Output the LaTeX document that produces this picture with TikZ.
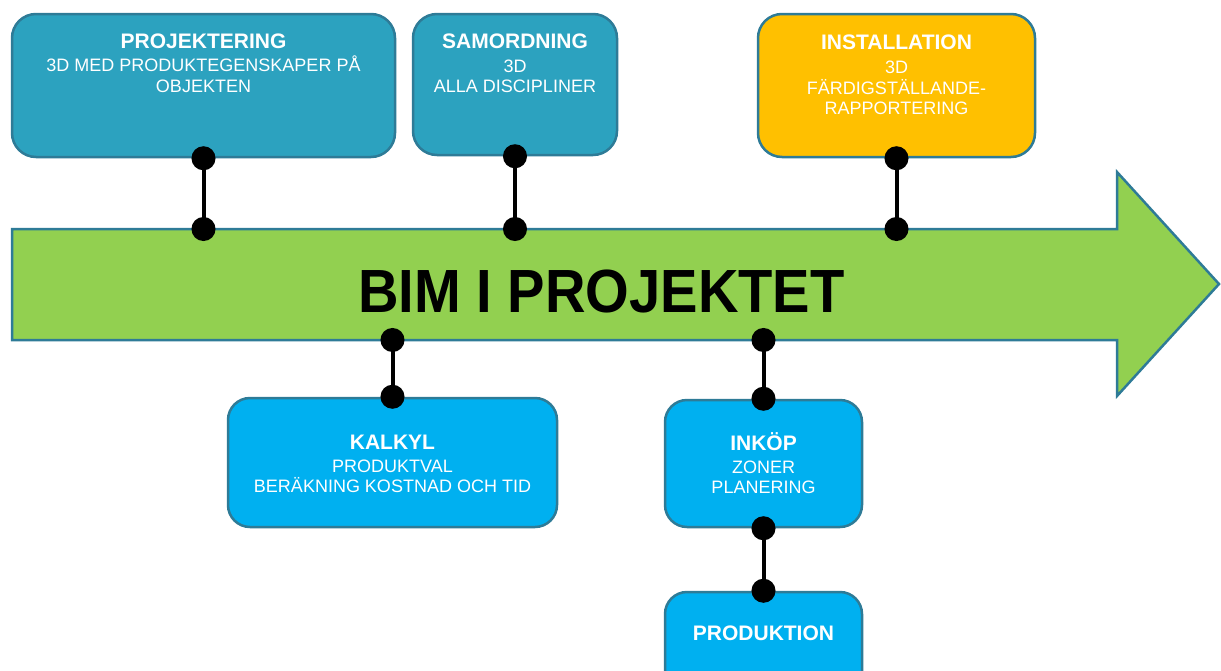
\documentclass[tikz,border=0pt]{standalone}
\usepackage{fontspec}
\setmainfont{Liberation Sans}
\usetikzlibrary{arrows.meta}
\definecolor{tealbox}{HTML}{2CA2BF}
\definecolor{edgecol}{HTML}{2E7B97}
\definecolor{skybox}{HTML}{00B0F0}
\definecolor{goldbox}{HTML}{FFC000}
\definecolor{limearrow}{HTML}{92D050}
\begin{document}
\begin{tikzpicture}[x=1pt,y=-1pt,
  box/.style={draw=edgecol, line width=2.5pt, rounded corners=24pt, inner sep=0pt},
  ttl/.style={text=white, font=\bfseries\fontsize{21}{24}\selectfont, inner sep=0pt, anchor=base},
  sub/.style={text=white, font=\fontsize{18}{20}\selectfont, inner sep=0pt, anchor=base},
  conn/.style={line width=4pt, {Circle[length=24pt]}-{Circle[length=24pt]}, shorten <=-12pt, shorten >=-12pt}
]
\useasboundingbox (0,0) rectangle (1221,670);
\clip (0,0) rectangle (1221,670);
% arrow
\draw[draw=edgecol, line width=2.5pt, fill=limearrow, line join=miter]
  (12,229) -- (1117,229) -- (1117,172) -- (1219,284) -- (1117,396) -- (1117,340) -- (12,340) -- cycle;
\coordinate (atop) at (0,229);
\coordinate (abot) at (0,340);
\node[inner sep=0pt, anchor=base, font=\bfseries\fontsize{61}{61}\selectfont] (bim) at (601.5,312) {\scalebox{0.92}[1]{BIM I PROJEKTET}};

% boxes
\node[box, fill=tealbox, minimum width=383pt, minimum height=143pt] (proj) at (203.5,85.5) {};
\node[box, fill=tealbox, minimum width=204pt, minimum height=141pt] (samo) at (515,84.5) {};
\node[box, fill=goldbox, minimum width=277pt, minimum height=143pt] (inst) at (896.5,85.5) {};
\node[box, fill=skybox, minimum width=329pt, minimum height=129pt, rounded corners=22pt] (kalk) at (392.5,462.5) {};
\node[box, fill=skybox, minimum width=197pt, minimum height=127pt, rounded corners=22pt] (inko) at (763.5,463.5) {};
\node[box, fill=skybox, minimum width=197pt, minimum height=110pt, rounded corners=22pt] (prod) at (763.5,647) {};

% texts
\node[ttl] (projT) at (203.5,48.3) {PROJEKTERING};
\node[sub] (projS1) at (203.5,71.6) {3D MED PRODUKTEGENSKAPER PÅ};
\node[sub] (projS2) at (203.5,92.2) {OBJEKTEN};

\node[ttl] (samoT) at (515,48.2) {SAMORDNING};
\node[sub] (samoS1) at (515,72) {3D};
\node[sub] (samoS2) at (515,92.4) {ALLA DISCIPLINER};

\node[ttl] (instT) at (896.5,49.5) {INSTALLATION};
\node[sub] (instS1) at (896.5,73.4) {3D};
\node[sub] (instS2) at (896.5,94.4) {FÄRDIGSTÄLLANDE-};
\node[sub] (instS3) at (896.5,114.4) {RAPPORTERING};

\node[ttl] (kalkT) at (392.5,449) {KALKYL};
\node[sub] (kalkS1) at (392.5,472) {PRODUKTVAL};
\node[sub] (kalkS2) at (392.5,492) {BERÄKNING KOSTNAD OCH TID};

\node[ttl] (inkoT) at (763.5,450) {INKÖP};
\node[sub] (inkoS1) at (763.5,473) {ZONER};
\node[sub] (inkoS2) at (763.5,493) {PLANERING};

\node[ttl] (prodT) at (763.5,640.5) {PRODUKTION};

% connectors
\draw[conn] (proj.south) -- (proj.south |- atop);
\draw[conn] (samo.south) -- (samo.south |- atop);
\draw[conn] (inst.south) -- (inst.south |- atop);
\draw[conn] (kalk.north |- abot) -- (kalk.north);
\draw[conn] (inko.north |- abot) -- (inko.north);
\draw[conn] (inko.south) -- (prod.north);
\end{tikzpicture}
\end{document}
